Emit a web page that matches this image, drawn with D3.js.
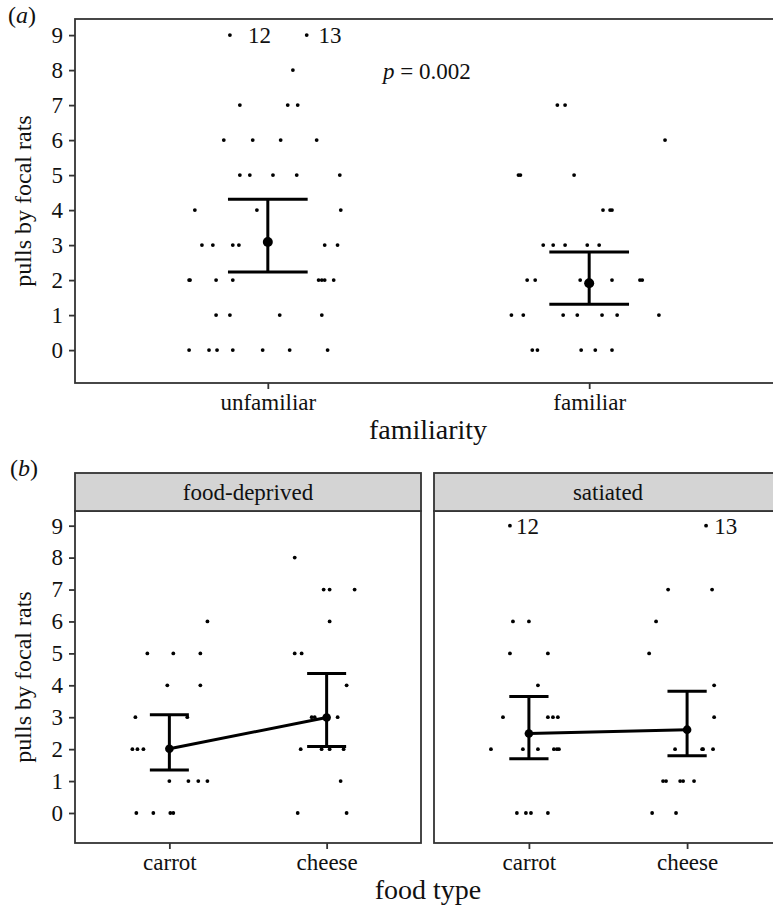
<!DOCTYPE html>
<html lang="en">
<head>
    <meta charset="UTF-8">
    <script src="https://d3js.org/d3.v7.min.js"></script>
    <style>
        body { margin: 0; background: white; }
        svg { display: block; font-family: "Liberation Serif", "Times New Roman", serif; }
        text { font-family: "Liberation Serif", "Times New Roman", serif; fill: #111; }
    </style>
</head>
<body>
    <svg width="773" height="908"></svg>
    <script>
        // ---- data ----
        var yTicks = [0, 1, 2, 3, 4, 5, 6, 7, 8, 9];
        var familiarity = ["unfamiliar", "familiar"];
        var foodTypes = ["carrot", "cheese"];
        var states = ["food-deprived", "satiated"];

        // panel (a): raw pulls and jittered x position (category units)
        var unfamiliarPulls = [9, 9, 8, 7, 7, 7, 6, 6, 6, 6, 5, 5, 5, 5, 5, 4, 4, 4,
            3, 3, 3, 3, 3, 3, 2, 2, 2, 2, 2, 2, 2, 2, 1, 1, 1, 1, 0, 0, 0, 0, 0, 0, 0];
        var unfamiliarX = [0.882, 1.121, 1.078, 0.913, 1.062, 1.093, 0.863, 0.953, 1.040, 1.152,
            0.913, 0.944, 1.016, 1.090, 1.224, 0.773, 0.966, 1.227,
            0.795, 0.829, 0.891, 0.910, 1.177, 1.217,
            0.755, 0.758, 0.839, 0.891, 1.158, 1.168, 1.177, 1.205,
            0.839, 0.882, 1.037, 1.168,
            0.755, 0.817, 0.842, 0.891, 0.984, 1.068, 1.186];
        var familiarPulls = [7, 7, 6, 5, 5, 5, 4, 4, 4, 3, 3, 3, 3, 3, 2, 2, 2, 2, 2, 2,
            1, 1, 1, 1, 1, 1, 1, 0, 0, 0, 0, 0];
        var familiarX = [1.901, 1.925, 2.236, 1.780, 1.786, 1.953, 2.043, 2.065, 2.071,
            1.857, 1.888, 1.925, 1.994, 2.031,
            1.807, 1.832, 1.972, 2.071, 2.158, 2.165,
            1.758, 1.795, 1.919, 1.963, 2.040, 2.087, 2.217,
            1.823, 1.839, 1.975, 2.019, 2.071];
        var aMean = [3.09, 1.91];
        var aLower = [2.23, 1.31];
        var aUpper = [4.31, 2.80];

        // panel (b): food-deprived
        var deprivedCarrotPulls = [6, 5, 5, 5, 4, 4, 3, 3, 2, 2, 2, 1, 1, 1, 1, 0, 0, 0, 0];
        var deprivedCarrotX = [1.242, 0.860, 1.025, 1.197, 0.987, 1.197, 0.784, 1.114,
            0.765, 0.797, 0.835, 1.000, 1.121, 1.184, 1.242, 0.790, 0.898, 1.006, 1.025];
        var deprivedCheesePulls = [8, 7, 7, 7, 6, 5, 5, 4, 3, 3, 3, 2, 2, 2, 2, 1, 0, 0];
        var deprivedCheeseX = [1.797, 1.981, 2.019, 2.178, 2.019, 1.797, 1.841, 2.127,
            1.905, 1.924, 2.070, 1.835, 1.968, 2.019, 2.108, 2.089, 1.816, 2.127];
        // panel (b): satiated
        var satiatedCarrotPulls = [9, 6, 6, 5, 5, 4, 3, 3, 3, 3, 2, 2, 2, 2, 2, 2, 0, 0, 0, 0];
        var satiatedCarrotX = [0.880, 0.899, 1.000, 0.880, 1.120, 1.057, 0.836, 1.120, 1.152, 1.183,
            0.760, 0.962, 1.057, 1.158, 1.177, 1.190, 0.924, 0.981, 1.013, 1.120];
        var satiatedCheesePulls = [9, 7, 7, 6, 5, 4, 3, 2, 2, 2, 2, 1, 1, 1, 1, 1, 0, 0];
        var satiatedCheeseX = [2.120, 1.880, 2.158, 1.804, 1.760, 2.171, 2.171,
            1.924, 2.095, 2.101, 2.164, 1.848, 1.867, 1.956, 1.975, 2.044, 1.779, 1.930];
        var deprivedMean = [2.01, 2.99];
        var deprivedLower = [1.35, 2.08];
        var deprivedUpper = [3.08, 4.37];
        var satiatedMean = [2.49, 2.61];
        var satiatedLower = [1.70, 1.79];
        var satiatedUpper = [3.65, 3.81];

        // outlier labels: [text, x position, pulls]
        var aLabels = [["12", 0.938, 9], ["13", 1.158, 9]];
        var satiatedLabels = [["12", 0.918, 9], ["13", 2.171, 9]];

        // ---- drawing ----
        var svg = d3.select("svg");
        var axisColor = "#333";
        var serif = '"Liberation Serif", "Times New Roman", serif';
        var capHalf = 0.124;

        function pts(xs, ys) {
            return xs.map(function(x, i) { return {x: x, y: ys[i]}; });
        }

        function txt(sel, size) {
            return sel.style("font-family", serif).style("font-size", size + "px").style("fill", "#111");
        }

        // draws one plotting panel; returns the scales
        function panel(x0, x1, y0, y1, cats, showY) {
            var x = d3.scaleLinear().domain([0.4, 2.6]).range([x0, x1]);
            var y = d3.scaleLinear().domain([-0.94, 9.46]).range([y1, y0]);
            var g = svg.append("g");

            g.append("rect")
                .attr("x", x0).attr("y", y0)
                .attr("width", x1 - x0).attr("height", y1 - y0)
                .attr("fill", "none")
                .attr("stroke", axisColor)
                .attr("stroke-width", 1.8);

            var xa = g.append("g")
                .attr("transform", "translate(0," + y1 + ")")
                .call(d3.axisBottom(x).tickValues([1, 2]).tickSize(6).tickPadding(5)
                    .tickFormat(function(d) { return cats[d - 1]; }));
            xa.attr("font-family", null);
            xa.select(".domain").remove();
            xa.selectAll("line").attr("stroke", axisColor).attr("stroke-width", 1.8);
            txt(xa.selectAll("text"), 23);

            if (showY) {
                var ya = g.append("g")
                    .attr("transform", "translate(" + x0 + ",0)")
                    .call(d3.axisLeft(y).tickValues(yTicks).tickSize(6).tickPadding(6));
                ya.attr("font-family", null);
                ya.select(".domain").remove();
                ya.selectAll("line").attr("stroke", axisColor).attr("stroke-width", 1.8);
                txt(ya.selectAll("text"), 23);
            }
            return {x: x, y: y, g: g};
        }

        function dots(p, data) {
            p.g.selectAll(null)
                .data(data)
                .enter()
                .append("circle")
                .attr("cx", function(d) { return p.x(d.x); })
                .attr("cy", function(d) { return p.y(d.y); })
                .attr("r", 1.9)
                .attr("fill", "#000");
        }

        function summary(p, means, lower, upper, connect, r) {
            var s = means.map(function(m, i) { return {x: i + 1, m: m, lo: lower[i], hi: upper[i]}; });
            if (connect) {
                p.g.append("path")
                    .datum(s)
                    .attr("fill", "none")
                    .attr("stroke", "#000")
                    .attr("stroke-width", 3)
                    .attr("d", d3.line().x(function(d) { return p.x(d.x); }).y(function(d) { return p.y(d.m); }));
            }
            s.forEach(function(d) {
                p.g.append("line")
                    .attr("x1", p.x(d.x)).attr("x2", p.x(d.x))
                    .attr("y1", p.y(d.lo)).attr("y2", p.y(d.hi))
                    .attr("stroke", "#000").attr("stroke-width", 3);
                [d.lo, d.hi].forEach(function(v) {
                    p.g.append("line")
                        .attr("x1", p.x(d.x - capHalf)).attr("x2", p.x(d.x + capHalf))
                        .attr("y1", p.y(v)).attr("y2", p.y(v))
                        .attr("stroke", "#000").attr("stroke-width", 3);
                });
                p.g.append("circle")
                    .attr("cx", p.x(d.x)).attr("cy", p.y(d.m))
                    .attr("r", r).attr("fill", "#000");
            });
        }

        function labels(p, list) {
            txt(p.g.selectAll(null)
                .data(list)
                .enter()
                .append("text")
                .attr("x", function(d) { return p.x(d[1]); })
                .attr("y", function(d) { return p.y(d[2]); })
                .attr("dy", "0.35em")
                .text(function(d) { return d[0]; }), 23);
        }

        // panel (a)
        var pa = panel(75, 782, 19, 383, familiarity, true);
        dots(pa, pts(unfamiliarX, unfamiliarPulls));
        dots(pa, pts(familiarX, familiarPulls));
        summary(pa, aMean, aLower, aUpper, false, 5);
        labels(pa, aLabels);

        var pText = txt(pa.g.append("text").attr("x", 383).attr("y", 79), 23);
        pText.append("tspan").style("font-style", "italic").text("p");
        pText.append("tspan").text(" = 0.002");

        // panel (b)
        var pb1 = panel(75, 421, 511, 843, foodTypes, true);
        var pb2 = panel(434, 782, 511, 843, foodTypes, false);
        dots(pb1, pts(deprivedCarrotX, deprivedCarrotPulls));
        dots(pb1, pts(deprivedCheeseX, deprivedCheesePulls));
        dots(pb2, pts(satiatedCarrotX, satiatedCarrotPulls));
        dots(pb2, pts(satiatedCheeseX, satiatedCheesePulls));
        summary(pb1, deprivedMean, deprivedLower, deprivedUpper, true, 4.3);
        summary(pb2, satiatedMean, satiatedLower, satiatedUpper, true, 4.3);
        labels(pb2, satiatedLabels);

        // facet strips
        [[75, 421], [434, 782]].forEach(function(r, i) {
            svg.append("rect")
                .attr("x", r[0]).attr("y", 473)
                .attr("width", r[1] - r[0]).attr("height", 38)
                .attr("fill", "#d4d4d4")
                .attr("stroke", axisColor)
                .attr("stroke-width", 1.8);
            txt(svg.append("text")
                .attr("x", (r[0] + r[1]) / 2).attr("y", 500)
                .attr("text-anchor", "middle")
                .text(states[i]), 23);
        });

        // titles and panel tags
        txt(svg.append("text").attr("x", 428).attr("y", 439)
            .attr("text-anchor", "middle").text("familiarity"), 28);
        txt(svg.append("text").attr("x", 428).attr("y", 899)
            .attr("text-anchor", "middle").text("food type"), 28);

        [201, 677].forEach(function(cy) {
            txt(svg.append("text")
                .attr("transform", "translate(31," + cy + ") rotate(-90)")
                .attr("text-anchor", "middle")
                .text("pulls by focal rats"), 24);
        });

        var tagA = txt(svg.append("text").attr("x", 8).attr("y", 23), 24);
        tagA.append("tspan").text("(");
        tagA.append("tspan").style("font-style", "italic").text("a");
        tagA.append("tspan").text(")");
        var tagB = txt(svg.append("text").attr("x", 10).attr("y", 476), 24);
        tagB.append("tspan").text("(");
        tagB.append("tspan").style("font-style", "italic").text("b");
        tagB.append("tspan").text(")");
    </script>
</body>
</html>
